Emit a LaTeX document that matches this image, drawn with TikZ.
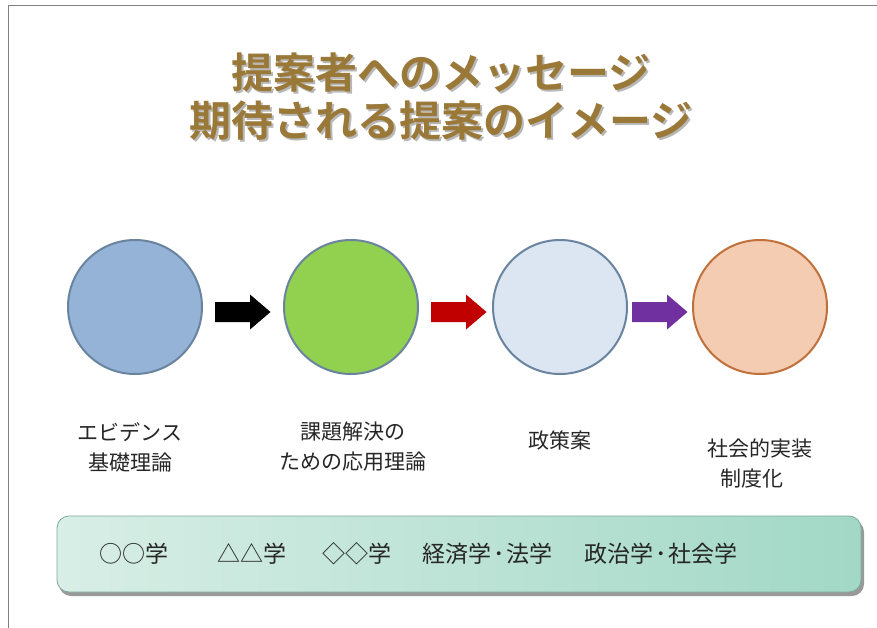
\documentclass[tikz,border=0pt]{standalone}
\usepackage{fontspec}
\newfontfamily\jp{Noto Sans CJK JP}
\newfontfamily\jpb{Noto Sans CJK JP Bold}
\definecolor{titlec}{HTML}{9A7838}
\definecolor{c1}{HTML}{95B3D7}
\definecolor{c2}{HTML}{92D050}
\definecolor{c3}{HTML}{DCE6F2}
\definecolor{c4}{HTML}{F4CCB2}
\definecolor{b1}{HTML}{6A84A0}
\definecolor{b4}{HTML}{C0703A}
\definecolor{barl}{HTML}{D8EEE6}
\definecolor{barr}{HTML}{A2D8C6}
\definecolor{barb}{HTML}{7FA89E}
\definecolor{ared}{HTML}{C00000}
\definecolor{apur}{HTML}{7030A0}
\tikzset{
  circ/.style={circle,draw=b1,line width=2pt,minimum size=134pt,inner sep=0pt},
  lbl/.style={font=\jp\fontsize{21}{30}\selectfont,align=center,text=black!85},
  ttl/.style={font=\jpb\fontsize{42}{48}\selectfont,align=center},
  bart/.style={font=\jp\fontsize{23}{24}\selectfont,text=black!85,anchor=west},
}
\newcommand\blockarr[2]{\fill[#2] (#1) ++(0,-10) -- ++(35,0) -- ++(0,-7.5) -- ++(20.5,17.5) -- ++(-20.5,17.5) -- ++(0,-7.5) -- ++(-35,0) -- cycle;}
\newcommand\mdot{\hspace{1.5pt}･\hspace{1.5pt}}
\begin{document}
\begin{tikzpicture}[x=1pt,y=-1pt]
\useasboundingbox (0,0) rectangle (877,628);
\fill[white] (0,0) rectangle (877,628);
\draw[gray,line width=0.8pt] (8,628) coordinate (bl) -- (8,5) coordinate (tl) -- (877,5) coordinate (tr);
% title
\node[ttl,text=black!28] at (443,99) {提案者へのメッセージ\\期待される提案のイメージ};
\node[ttl,text=titlec] (title) at (441,97) {提案者へのメッセージ\\期待される提案のイメージ};
% circles
\node[circ,fill=c1] (n1) at (135,307) {};
\node[circ,fill=c2] (n2) at (351,307) {};
\node[circ,fill=c3] (n3) at (560,307) {};
\node[circ,fill=c4,draw=b4] (n4) at (760,307) {};
% arrows
\coordinate (a1) at (215,312);
\coordinate (a2) at (431,312);
\coordinate (a3) at (632,312);
\blockarr{a1}{black}
\blockarr{a2}{ared}
\blockarr{a3}{apur}
% labels
\node[lbl] (l1) at (130,447) {エビデンス\\基礎理論};
\node[lbl] (l2) at (353,447) {課題解決の\\ための応用理論};
\node[lbl] (l3) at (560,440) {政策案};
\node[lbl] (l4) at (760,463) {社会的実装\\\hspace*{-16pt}制度化};
% bar
\fill[black!40,rounded corners=12pt] (59,520) rectangle (864,596);
\shade[left color=barl,right color=barr,rounded corners=12pt,draw=barb,line width=0.8pt] (57,516) rectangle (861,592);
\node (bar) at (459,554) {};
\node[bart] (t1) at (96,554) {○○学};
\node[bart] (t2) at (214,554) {△△学};
\node[bart] (t3) at (319,554) {◇◇学};
\node[bart] (t4) at (419,554) {経済学\mdot 法学};
\node[bart] (t5) at (581,554) {政治学\mdot 社会学};
\end{tikzpicture}
\end{document}
